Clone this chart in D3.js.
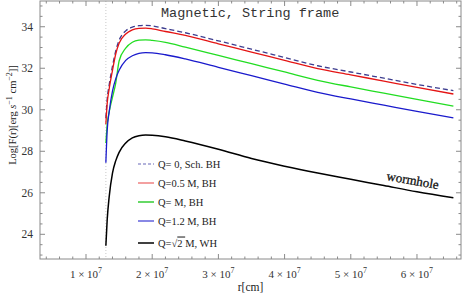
<!DOCTYPE html>
<html>
<head>
<meta charset="utf-8">
<script src="https://cdn.jsdelivr.net/npm/d3@7"></script>
<style>
  body { margin: 0; background: #fff; }
  svg { display: block; }
  text { font-family: "Liberation Serif", "DejaVu Serif", serif; }
</style>
</head>
<body>
<div id="chart"></div>
<script>
// radius in units of 1e7 cm
const radius = [1.3, 1.32, 1.35, 1.4, 1.45, 1.5, 1.6, 1.7, 1.8, 1.9, 2.0, 2.2, 2.5, 3.0, 3.5, 4.0, 4.5, 5.0, 5.5, 6.0, 6.55];

const schBH  = [29.6, 30.5, 31.2, 32.1, 32.85, 33.35, 33.8, 33.98, 34.05, 34.07, 34.04, 33.91, 33.71, 33.32, 32.92, 32.52, 32.12, 31.82, 31.52, 31.22, 30.92];
const q05BH  = [29.3, 30.3, 31.0, 31.9, 32.7, 33.2, 33.65, 33.85, 33.92, 33.93, 33.9, 33.77, 33.58, 33.18, 32.78, 32.38, 31.98, 31.68, 31.38, 31.08, 30.76];
const qMBH   = [28.4, 29.3, 29.9, 30.6, 31.3, 32.35, 32.97, 33.25, 33.35, 33.37, 33.34, 33.25, 33.02, 32.62, 32.22, 31.82, 31.42, 31.1, 30.8, 30.5, 30.18];
const q12BH  = [27.45, 29.0, 29.9, 30.9, 31.5, 31.9, 32.38, 32.6, 32.72, 32.75, 32.74, 32.65, 32.45, 32.04, 31.64, 31.24, 30.84, 30.52, 30.22, 29.92, 29.61];
const sqrt2WH = [23.45, 24.7, 25.8, 26.95, 27.55, 27.95, 28.4, 28.65, 28.75, 28.78, 28.77, 28.7, 28.5, 28.1, 27.65, 27.28, 26.95, 26.65, 26.35, 26.05, 25.76];

const yTicks = [24, 26, 28, 30, 32, 34];
const xTicks = [1, 2, 3, 4, 5, 6];
const innerEdge = 1.3; // dotted vertical line

const series = [
  {name: "Q= 0, Sch. BH", values: schBH, color: "#3d3d8f", legend: "#9a9ad0", dash: "5,3", width: 1.3},
  {name: "Q=0.5 M, BH", values: q05BH, color: "#e41414", legend: "#ef8080", dash: null, width: 1.3},
  {name: "Q= M, BH", values: qMBH, color: "#22dd22", legend: "#33cc33", dash: null, width: 1.3},
  {name: "Q=1.2 M, BH", values: q12BH, color: "#1a1acc", legend: "#6060dd", dash: null, width: 1.3},
  {name: "sqrt", values: sqrt2WH, color: "#000000", legend: "#000000", dash: null, width: 1.5},
];

const W = 463, H = 302;
const margin = {top: 1, right: 2, bottom: 43, left: 40};

const svg = d3.select("#chart").append("svg")
  .attr("width", W)
  .attr("height", H);

const x = d3.scaleLinear().domain([0.305, 6.665]).range([margin.left, W - margin.right]);
const y = d3.scaleLinear().domain([22.81, 35.24]).range([H - margin.bottom, margin.top]);

const frameColor = "#8a8a8a";

// dotted inner edge line
svg.append("line")
  .attr("x1", x(innerEdge)).attr("x2", x(innerEdge))
  .attr("y1", y.range()[1]).attr("y2", y.range()[0])
  .attr("stroke", "#c8c8c8")
  .attr("stroke-width", 1)
  .attr("stroke-dasharray", "1,2");

// curves
const line = d3.line()
  .x((d, i) => x(radius[i]))
  .y(d => y(d))
  .curve(d3.curveMonotoneX);

series.forEach(s => {
  svg.append("path")
    .datum(s.values)
    .attr("d", line)
    .attr("fill", "none")
    .attr("stroke", s.color)
    .attr("stroke-width", s.width)
    .attr("stroke-dasharray", s.dash);
});

// frame with inward ticks on all sides
const x0 = margin.left, x1 = W - margin.right, y0 = H - margin.bottom, y1 = margin.top;
svg.append("rect")
  .attr("x", x0).attr("y", y1)
  .attr("width", x1 - x0).attr("height", y0 - y1)
  .attr("fill", "none")
  .attr("stroke", frameColor)
  .attr("stroke-width", 1);

const xMinor = d3.range(0.4, 6.61, 0.2).filter(v => Math.abs(v - Math.round(v)) > 0.01);
const yMinor = d3.range(23, 35.01, 0.5).filter(v => v % 2 !== 0);

const ticks = svg.append("g").attr("stroke", frameColor).attr("stroke-width", 1);
xTicks.forEach(v => {
  ticks.append("line").attr("x1", x(v)).attr("x2", x(v)).attr("y1", y0).attr("y2", y0 - 5);
  ticks.append("line").attr("x1", x(v)).attr("x2", x(v)).attr("y1", y1).attr("y2", y1 + 5);
});
xMinor.forEach(v => {
  ticks.append("line").attr("x1", x(v)).attr("x2", x(v)).attr("y1", y0).attr("y2", y0 - 2.5);
  ticks.append("line").attr("x1", x(v)).attr("x2", x(v)).attr("y1", y1).attr("y2", y1 + 2.5);
});
yTicks.forEach(v => {
  ticks.append("line").attr("x1", x0).attr("x2", x0 + 5).attr("y1", y(v)).attr("y2", y(v));
  ticks.append("line").attr("x1", x1).attr("x2", x1 - 5).attr("y1", y(v)).attr("y2", y(v));
});
yMinor.forEach(v => {
  ticks.append("line").attr("x1", x0).attr("x2", x0 + 2.5).attr("y1", y(v)).attr("y2", y(v));
  ticks.append("line").attr("x1", x1).attr("x2", x1 - 2.5).attr("y1", y(v)).attr("y2", y(v));
});

// tick labels
svg.append("g").selectAll("text")
  .data(yTicks)
  .join("text")
    .attr("x", x0 - 7)
    .attr("y", d => y(d) + 4)
    .attr("text-anchor", "end")
    .attr("font-size", 11.5)
    .attr("fill", "#333")
    .text(d => d);

const xl = svg.append("g").selectAll("text")
  .data(xTicks)
  .join("text")
    .attr("x", d => x(d))
    .attr("y", 278)
    .attr("text-anchor", "middle")
    .attr("font-size", 11)
    .attr("fill", "#333");
xl.append("tspan").text(d => d + " \u00d7 10");
xl.append("tspan").attr("dy", -5).attr("font-size", 8).text("7");

// axis titles
svg.append("text")
  .attr("x", (x0 + x1) / 2)
  .attr("y", 291)
  .attr("text-anchor", "middle")
  .attr("font-size", 11.5)
  .attr("fill", "#222")
  .text("r[cm]");

const yt = svg.append("text")
  .attr("transform", "translate(16,115) rotate(-90)")
  .attr("text-anchor", "middle")
  .attr("font-size", 10.5)
  .attr("fill", "#222");
yt.append("tspan").text("Log[F(r)[erg ");
yt.append("tspan").attr("font-style", "italic").text("s");
yt.append("tspan").attr("dy", -4).attr("font-size", 8).text("\u22121");
yt.append("tspan").attr("dy", 4).text(" cm");
yt.append("tspan").attr("dy", -4).attr("font-size", 8).text("\u22122");
yt.append("tspan").attr("dy", 4).text("]]");

// title
svg.append("text")
  .attr("x", 161)
  .attr("y", 17)
  .attr("font-size", 13.5)
  .attr("fill", "#333")
  .style("font-family", "'Liberation Mono', monospace")
  .text("Magnetic, String frame");

// wormhole label
svg.append("text")
  .attr("transform", "translate(386,180) rotate(10)")
  .attr("font-size", 13)
  .attr("fill", "#111")
  .attr("stroke", "#111")
  .attr("stroke-width", 0.3)
  .text("wormhole");

// legend
const legendRows = [164, 183, 202, 221, 243];
const lg = svg.append("g");
series.forEach((s, i) => {
  lg.append("line")
    .attr("x1", 138).attr("x2", 154)
    .attr("y1", legendRows[i]).attr("y2", legendRows[i])
    .attr("stroke", s.legend)
    .attr("stroke-width", 1.5)
    .attr("stroke-dasharray", s.dash ? "3,2" : null);
  const t = lg.append("text")
    .attr("x", 158)
    .attr("y", legendRows[i] + 3.5)
    .attr("font-size", 10.5)
    .attr("fill", "#222");
  if (s.name === "sqrt") {
    t.append("tspan").text("Q=\u221a");
    t.append("tspan").style("text-decoration", "overline").text("2 ");
    t.append("tspan").text(" M, WH");
  } else {
    t.text(s.name);
  }
});
</script>
</body>
</html>
